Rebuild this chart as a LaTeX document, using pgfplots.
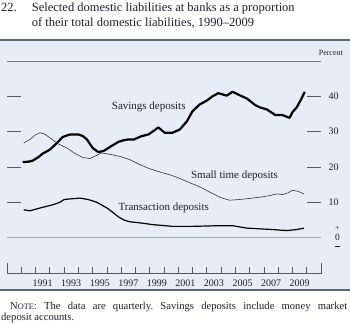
\documentclass[border=0pt]{standalone}
\usepackage{pgfplots}
\pgfplotsset{compat=1.18}
\usepackage{fontspec}
\setmainfont{Liberation Serif}
\definecolor{panel}{HTML}{E6EDF7}
\definecolor{rulec}{HTML}{5C6675}
\definecolor{tickc}{HTML}{505A66}
\definecolor{zeroc}{HTML}{A3ABB5}
\definecolor{txt}{HTML}{1E1E2A}
\pgfplotstableread{
x y
1990.1 21.4
1990.5 21.5
1990.8 21.8
1991.2 22.8
1991.5 23.8
1992.0 24.9
1992.5 26.8
1992.9 28.5
1993.4 29.2
1994.0 29.2
1994.3 28.8
1994.6 27.8
1995.0 25.4
1995.4 24.2
1995.8 24.6
1996.3 25.9
1996.8 27.1
1997.1 27.5
1997.5 27.8
1997.9 27.8
1998.4 28.7
1998.9 29.2
1999.3 30.3
1999.6 31.2
2000.05 29.7
2000.6 29.7
2001.1 30.6
2001.6 32.9
2002.0 35.8
2002.5 37.7
2003.0 38.8
2003.4 40.0
2003.8 40.9
2004.4 40.2
2004.8 41.3
2005.2 40.5
2005.8 39.4
2006.4 37.5
2006.7 36.9
2007.2 36.3
2007.8 34.7
2008.3 34.7
2008.8 33.9
2009.0 35.5
2009.3 36.9
2009.6 39.1
2009.86 41.3
}\savings
\pgfplotstableread{
x y
1990.17 26.8
1990.6 27.8
1990.95 29.0
1991.3 29.7
1991.6 29.4
1992.1 28.0
1992.6 26.5
1993.2 25.4
1993.7 24.0
1994.3 22.7
1994.8 22.4
1995.3 23.3
1995.6 24.0
1996.2 23.6
1996.9 23.0
1997.6 22.1
1998.3 20.7
1999.0 19.5
1999.7 18.6
2000.4 17.8
2000.9 17.1
2001.6 15.9
2002.5 14.4
2003.4 12.5
2004.0 11.3
2004.6 10.6
2005.3 10.8
2006.2 11.2
2006.8 11.5
2007.4 11.9
2007.9 12.4
2008.3 12.2
2008.7 12.7
2009.0 13.4
2009.4 13.1
2009.8 12.4
}\smalltime
\pgfplotstableread{
x y
1990.17 7.9
1990.6 7.6
1991.05 8.1
1991.5 8.6
1992.2 9.3
1992.7 10.0
1993.0 10.8
1993.5 11.0
1994.1 11.2
1994.7 10.8
1995.3 10.0
1996.0 8.4
1996.4 7.2
1996.8 5.9
1997.2 5.0
1997.6 4.5
1998.3 4.2
1999.2 3.7
2000.6 3.2
2002.0 3.2
2003.0 3.3
2003.9 3.4
2004.8 3.4
2005.8 2.7
2006.7 2.5
2007.6 2.3
2008.6 2.0
2009.3 2.3
2009.8 2.7
}\transaction
\begin{document}
\begin{tikzpicture}
\path[use as bounding box] (0,0) rectangle (350bp,-324bp);
\fill[panel] (0,-40bp) rectangle (350bp,-290bp);
\draw[rulec, line width=1.6bp] (0,-40bp) -- (350bp,-40bp);
\draw[rulec, line width=1.6bp] (0,-290bp) -- (350bp,-290bp);
\node[anchor=base west, inner sep=0, text=txt, font=\fontsize{12.5bp}{15bp}\selectfont] at (1bp,-11.5bp) {22.};
\node[anchor=base west, inner sep=0, text=txt, font=\fontsize{12.5bp}{15bp}\selectfont] at (31.7bp,-11.5bp) {Selected domestic liabilities at banks as a proportion};
\node[anchor=base west, inner sep=0, text=txt, font=\fontsize{12.5bp}{15bp}\selectfont] at (31.7bp,-26.5bp) {of their total domestic liabilities, 1990--2009};
\node[anchor=base east, inner sep=0, text=txt, font=\fontsize{8bp}{9bp}\selectfont] at (343bp,-55bp) {Percent};
\node[anchor=base west, inner sep=0, text width=346bp, align=justify, text=txt, font=\fontsize{10.6bp}{10.6bp}\selectfont] at (1bp,-309.8bp) {\frenchspacing\hyphenpenalty=10000\hspace*{9bp}N{\fontsize{8.3bp}{10.6bp}\selectfont OTE}: The data are quarterly. Savings deposits include money market\linebreak deposit accounts.};
\begin{axis}[
  at={(7bp,-273bp)}, anchor=south west,
  width=314bp, height=212bp, scale only axis,
  xmin=1989, xmax=2011, ymin=-10, ymax=50,
  axis line style={draw=none},
  clip=false,
  tick align=inside,
  xtick pos=bottom, ytick pos=both,
  ytick={10,20,30,40}, yticklabels={10,20,30,40},
  yticklabel pos=right,
  major tick length=14bp,
  xtick={1991.5,1993.5,...,2009.5},
  xticklabels={1991,1993,1995,1997,1999,2001,2003,2005,2007,2009},
  major x tick style={draw=none},
  minor xtick={1990,1991,...,2010},
  minor tick length=6bp,
  tick style={tickc, line width=0.8bp},
  tick label style={text=txt, font=\fontsize{10bp}{12bp}\selectfont},
  yticklabel style={xshift=4bp},
  xticklabel style={yshift=-3.5bp},
]
\draw[tickc!80, line width=0.7bp] (axis cs:1989,50) -- (axis cs:2011,50);
\draw[zeroc, line width=1.4bp] (axis cs:1989,0) -- (axis cs:2011,0);
\draw[tickc, line width=0.8bp] ([yshift=10bp]axis cs:1989,-10) -- (axis cs:1989,-10) -- (axis cs:2011,-10) -- ([yshift=10bp]axis cs:2011,-10);
\addplot[black!80, line width=0.6bp] table[x=x,y=y] {\smalltime};
\addplot[black, line width=1.2bp] table[x=x,y=y] {\transaction};
\addplot[black, line width=2.2bp, line join=round] table[x=x,y=y] {\savings};
\node[text=txt, font=\fontsize{11bp}{13bp}\selectfont] at (axis cs:1998.93,36.9) {Savings deposits};
\node[text=txt, font=\fontsize{11bp}{13bp}\selectfont] at (axis cs:2004.94,17.6) {Small time deposits};
\node[text=txt, font=\fontsize{11bp}{13bp}\selectfont] at (axis cs:1999.98,8.4) {Transaction deposits};
\node[text=txt, font=\fontsize{9.5bp}{10bp}\selectfont, inner sep=0] at ([xshift=16.5bp]axis cs:2011,0) {0};
\node[text=txt, font=\fontsize{8bp}{9bp}\selectfont, inner sep=0] at ([xshift=16.5bp,yshift=9.5bp]axis cs:2011,0) {+};
\fill[txt] ([xshift=14.2bp,yshift=-8.2bp]axis cs:2011,0) rectangle ([xshift=18.8bp,yshift=-9.0bp]axis cs:2011,0);
\end{axis}
\end{tikzpicture}
\end{document}
